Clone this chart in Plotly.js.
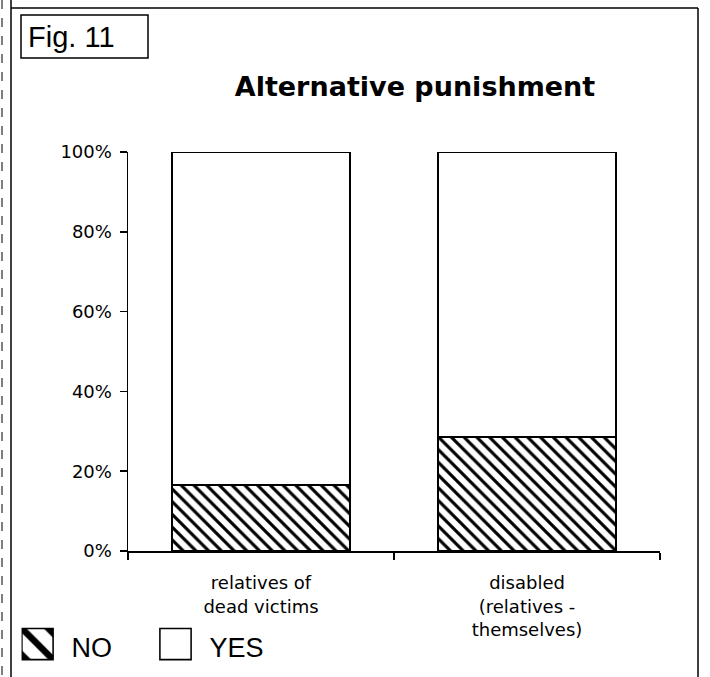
<!DOCTYPE html>
<html>
<head>
<meta charset="utf-8">
<script src="https://cdn.plot.ly/plotly-3.0.1.min.js"></script>
<style>html,body{margin:0;padding:0;background:#fff;}#chart{width:710px;height:677px;}</style>
</head>
<body>
<div id="chart"></div>
<script>
// ---- data ----
const categories = ["relatives of<br>dead victims", "disabled<br>(relatives -<br>themselves)"];
const noValues = [0.165, 0.286];
const yesValues = [0.835, 0.714];
const seriesNames = ["NO", "YES"];
const tickValues = [0, 0.2, 0.4, 0.6, 0.8, 1.0];
const tickLabels = ["0%", "20%", "40%", "60%", "80%", "100%"];

// ---- layout helpers (pixel -> paper) ----
const L = 128, R = 50, T = 152, B = 126, W = 710, H = 677;
const pw = W - L - R, ph = H - T - B;
const px = x => (x - L) / pw;
const py = y => (H - B - y) / ph;

const fontFam = "DejaVu Sans, Verdana, sans-serif";

const traces = [
  {
    type: "bar", name: seriesNames[0], x: categories, y: noValues,
    marker: {
      color: "white",
      line: {color: "black", width: 1.8},
      pattern: {shape: "\\", fgcolor: "black", bgcolor: "white", fgopacity: 1, size: 9, solidity: 0.35, fillmode: "replace"}
    },
    hoverinfo: "none"
  },
  {
    type: "bar", name: seriesNames[1], x: categories, y: yesValues,
    marker: {color: "white", line: {color: "black", width: 1.8}},
    hoverinfo: "none"
  }
];

const lineStyle = {color: "black", width: 1.5};
const layout = {
  width: W, height: H,
  margin: {l: L, r: R, t: T, b: B, autoexpand: false},
  paper_bgcolor: "white", plot_bgcolor: "white",
  barmode: "stack",
  bargap: 0.333,
  font: {family: fontFam, color: "black", size: 16},
  title: {
    text: "Alternative punishment",
    font: {family: fontFam, size: 27, color: "black", weight: "bold"},
    xref: "paper", x: px(415), xanchor: "center",
    yref: "container", y: 1 - 87 / H, yanchor: "middle"
  },
  xaxis: {
    type: "category", range: [-0.5, 1.5],
    showline: true, linecolor: "black", linewidth: 1.5,
    ticks: "outside", tickson: "boundaries", ticklen: 7, tickcolor: "black", tickwidth: 1.5,
    tickfont: {family: fontFam, size: 18, color: "black"},
    ticklabelstandoff: 15,
    showgrid: false, zeroline: false, fixedrange: true
  },
  yaxis: {
    range: [0, 1],
    tickvals: tickValues, ticktext: tickLabels,
    showline: true, linecolor: "black", linewidth: 1.5,
    ticks: "outside", ticklen: 7, tickcolor: "black", tickwidth: 1.5,
    tickfont: {family: fontFam, size: 18, color: "black"},
    ticklabelstandoff: 4,
    showgrid: false, zeroline: false, fixedrange: true
  },
  showlegend: true,
  legend: {
    orientation: "h", traceorder: "normal",
    x: px(21.5), xanchor: "left", y: py(622), yanchor: "top",
    font: {family: "Liberation Sans, Arial, sans-serif", size: 27, color: "black"},
    entrywidth: 83, entrywidthmode: "pixels",
    itemwidth: 40, bgcolor: "rgba(0,0,0,0)"
  },
  shapes: [
    // outer frame
    {type: "line", xref: "paper", yref: "paper", x0: px(11), x1: px(11), y0: py(0), y1: py(677), line: lineStyle},
    {type: "line", xref: "paper", yref: "paper", x0: px(11), x1: px(698), y0: py(8), y1: py(8), line: lineStyle},
    {type: "line", xref: "paper", yref: "paper", x0: px(698), x1: px(698), y0: py(8), y1: py(677), line: lineStyle},
    {type: "line", xref: "paper", yref: "paper", x0: px(2), x1: px(2), y0: py(0), y1: py(677), line: {color: "black", width: 1, dash: "dash"}},
    // Fig. 11 box
    {type: "rect", xref: "paper", yref: "paper", x0: px(21), x1: px(148), y0: py(15), y1: py(58), line: lineStyle, fillcolor: "rgba(0,0,0,0)"}
  ],
  annotations: [
    {text: "Fig. 11", xref: "paper", yref: "paper", x: px(26), y: py(37), xanchor: "left", yanchor: "middle",
     showarrow: false, font: {family: "Liberation Sans, Arial, sans-serif", size: 29, color: "black"}}
  ]
};

Plotly.newPlot("chart", traces, layout, {staticPlot: true, displayModeBar: false}).then(gd => {
  // enlarge legend swatches to match the reference's big boxes
  gd.querySelectorAll(".legend .legendpoints path").forEach(p => {
    p.setAttribute("transform", "translate(16,-2) scale(2.6)");
    p.style.strokeWidth = "0.6px";
  });
});
</script>
</body>
</html>
